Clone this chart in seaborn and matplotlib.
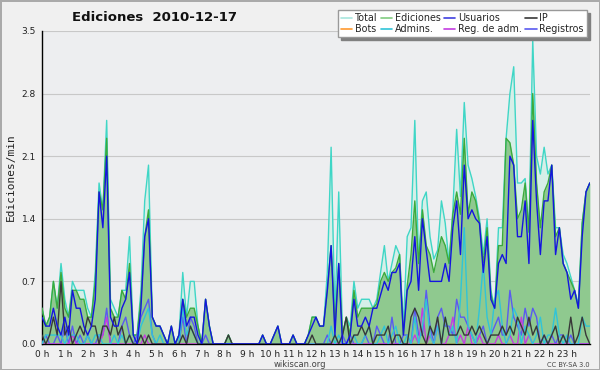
import numpy as np
import pandas as pd
import seaborn as sns
import matplotlib.pyplot as plt
from matplotlib.lines import Line2D
from matplotlib.ticker import MultipleLocator

sns.set_style("white")
plt.rcParams['font.family'] = ['DejaVu Sans']

# ediciones por minuto, tramos de 10 minutos (0 h ... 24 h)
horas = np.arange(145) / 6

total = [
    0.4, 0.2, 0.3, 0.7, 0.4, 0.9,
    0.5, 0.3, 0.7, 0.6, 0.6, 0.6,
    0.4, 0.3, 0.8, 1.8, 1.5, 2.5,
    0.5, 0.4, 0.3, 0.6, 0.6, 1.2,
    0.1, 0.1, 0.6, 1.6, 2.0, 0.3,
    0.2, 0.2, 0.1, 0.0, 0.2, 0.0,
    0.1, 0.8, 0.3, 0.7, 0.7, 0.2,
    0.0, 0.5, 0.2, 0.0, 0.0, 0.0,
    0.0, 0.1, 0.0, 0.0, 0.0, 0.0,
    0.0, 0.0, 0.0, 0.0, 0.1, 0.0,
    0.0, 0.1, 0.2, 0.0, 0.0, 0.0,
    0.1, 0.0, 0.0, 0.0, 0.1, 0.3,
    0.3, 0.2, 0.2, 0.8, 2.2, 0.3,
    1.7, 0.1, 0.3, 0.2, 0.7, 0.4,
    0.5, 0.5, 0.5, 0.4, 0.5, 0.8,
    1.1, 0.7, 0.9, 1.1, 1.0, 0.2,
    1.2, 1.3, 2.5, 0.9, 1.6, 1.7,
    1.2, 0.95, 1.05, 1.6, 1.35, 0.9,
    1.5, 2.4, 1.65, 2.7, 2.0, 1.85,
    1.65, 1.4, 1.0, 1.4, 0.6, 0.4,
    1.3, 1.3, 2.3, 2.8, 3.1, 1.8,
    1.8, 1.85, 1.25, 3.4, 2.1, 1.9,
    2.2, 1.9, 2.0, 1.3, 1.3, 1.0,
    0.9, 0.75, 0.6, 0.45, 1.35, 1.7,
    1.8,
]

ediciones = [
    0.4, 0.2, 0.3, 0.7, 0.4, 0.8,
    0.4, 0.3, 0.6, 0.6, 0.5, 0.5,
    0.3, 0.3, 0.7, 1.7, 1.5, 2.3,
    0.4, 0.3, 0.3, 0.6, 0.5, 0.9,
    0.1, 0.1, 0.5, 1.2, 1.5, 0.3,
    0.2, 0.2, 0.1, 0.0, 0.2, 0.0,
    0.1, 0.5, 0.3, 0.4, 0.4, 0.2,
    0.0, 0.5, 0.2, 0.0, 0.0, 0.0,
    0.0, 0.1, 0.0, 0.0, 0.0, 0.0,
    0.0, 0.0, 0.0, 0.0, 0.1, 0.0,
    0.0, 0.1, 0.2, 0.0, 0.0, 0.0,
    0.1, 0.0, 0.0, 0.0, 0.1, 0.3,
    0.3, 0.2, 0.2, 0.6, 1.1, 0.2,
    0.9, 0.1, 0.3, 0.1, 0.6, 0.3,
    0.4, 0.4, 0.4, 0.4, 0.45, 0.7,
    0.8, 0.7, 0.8, 0.85, 1.0, 0.1,
    0.65, 1.0, 1.6, 0.9, 1.5, 1.1,
    1.0, 0.8, 1.0, 1.2, 1.1, 0.9,
    1.45, 1.7, 1.45, 2.3, 1.45, 1.7,
    1.6, 1.35, 0.9, 1.3, 0.55, 0.4,
    1.1, 1.1, 2.3, 2.25, 2.0, 1.4,
    1.5, 1.8, 1.25, 2.8, 1.8, 1.3,
    1.7, 1.8, 2.0, 1.2, 1.3, 0.9,
    0.8, 0.7, 0.6, 0.4, 1.35, 1.7,
    1.8,
]

usuarios = [
    0.3, 0.2, 0.2, 0.4, 0.2, 0.1,
    0.3, 0.1, 0.6, 0.4, 0.4, 0.2,
    0.1, 0.2, 0.5, 1.7, 1.3, 2.1,
    0.3, 0.2, 0.2, 0.4, 0.5, 0.8,
    0.1, 0.0, 0.4, 1.2, 1.4, 0.3,
    0.2, 0.2, 0.1, 0.0, 0.2, 0.0,
    0.1, 0.5, 0.2, 0.3, 0.3, 0.1,
    0.0, 0.5, 0.2, 0.0, 0.0, 0.0,
    0.0, 0.0, 0.0, 0.0, 0.0, 0.0,
    0.0, 0.0, 0.0, 0.0, 0.1, 0.0,
    0.0, 0.1, 0.2, 0.0, 0.0, 0.0,
    0.1, 0.0, 0.0, 0.0, 0.1, 0.2,
    0.3, 0.2, 0.2, 0.6, 1.1, 0.1,
    0.9, 0.0, 0.0, 0.1, 0.5, 0.2,
    0.2, 0.3, 0.2, 0.4, 0.4, 0.55,
    0.7, 0.6, 0.8, 0.8, 0.9, 0.1,
    0.6, 0.7, 1.2, 0.6, 1.4, 1.05,
    0.7, 0.7, 0.7, 0.7, 0.9, 0.7,
    1.3, 1.6, 1.0, 2.0, 1.4, 1.5,
    1.4, 1.35, 0.8, 1.2, 0.5, 0.4,
    0.9, 1.0, 0.9, 2.1, 2.0, 1.2,
    1.2, 1.6, 0.9, 2.5, 1.6, 1.0,
    1.6, 1.6, 2.0, 1.0, 1.3, 0.9,
    0.8, 0.5, 0.6, 0.4, 1.2, 1.7,
    1.8,
]

ip = [
    0.1, 0.0, 0.1, 0.3, 0.1, 0.7,
    0.1, 0.2, 0.0, 0.1, 0.2, 0.1,
    0.3, 0.2, 0.2, 0.0, 0.2, 0.2,
    0.1, 0.3, 0.1, 0.2, 0.0, 0.1,
    0.0, 0.0, 0.1, 0.0, 0.1, 0.0,
    0.0, 0.0, 0.0, 0.0, 0.0, 0.0,
    0.0, 0.1, 0.0, 0.2, 0.1, 0.0,
    0.0, 0.0, 0.0, 0.0, 0.0, 0.0,
    0.0, 0.1, 0.0, 0.0, 0.0, 0.0,
    0.0, 0.0, 0.0, 0.0, 0.0, 0.0,
    0.0, 0.0, 0.0, 0.0, 0.0, 0.0,
    0.0, 0.0, 0.0, 0.0, 0.0, 0.1,
    0.0, 0.0, 0.0, 0.0, 0.0, 0.1,
    0.0, 0.1, 0.3, 0.0, 0.1, 0.1,
    0.2, 0.1, 0.2, 0.0, 0.1, 0.1,
    0.1, 0.2, 0.0, 0.1, 0.1, 0.0,
    0.0, 0.3, 0.4, 0.3, 0.1, 0.0,
    0.2, 0.1, 0.3, 0.0, 0.3, 0.1,
    0.1, 0.1, 0.2, 0.1, 0.1, 0.2,
    0.1, 0.2, 0.1, 0.0, 0.1, 0.1,
    0.1, 0.2, 0.1, 0.2, 0.1, 0.3,
    0.2, 0.1, 0.3, 0.1, 0.2, 0.0,
    0.1, 0.0, 0.1, 0.2, 0.0, 0.1,
    0.0, 0.3, 0.0, 0.1, 0.3, 0.1,
    0.0,
]

admins = [
    0.0, 0.1, 0.1, 0.1, 0.1, 0.1,
    0.0, 0.1, 0.1, 0.1, 0.0, 0.0,
    0.1, 0.0, 0.1, 0.1, 0.0, 0.0,
    0.0, 0.1, 0.0, 0.1, 0.0, 0.1,
    0.0, 0.0, 0.2, 0.3, 0.4, 0.1,
    0.0, 0.1, 0.0, 0.0, 0.0, 0.0,
    0.0, 0.4, 0.1, 0.2, 0.1, 0.0,
    0.0, 0.0, 0.0, 0.0, 0.0, 0.0,
    0.0, 0.0, 0.0, 0.0, 0.0, 0.0,
    0.0, 0.0, 0.0, 0.0, 0.0, 0.0,
    0.0, 0.0, 0.0, 0.0, 0.0, 0.0,
    0.0, 0.0, 0.0, 0.0, 0.0, 0.0,
    0.0, 0.0, 0.0, 0.0, 0.2, 0.0,
    0.1, 0.0, 0.0, 0.0, 0.1, 0.0,
    0.0, 0.1, 0.2, 0.0, 0.0, 0.1,
    0.2, 0.0, 0.1, 0.2, 0.0, 0.0,
    0.1, 0.0, 0.3, 0.0, 0.2, 0.5,
    0.1, 0.0, 0.2, 0.0, 0.3, 0.1,
    0.2, 0.0, 0.5, 1.3, 0.2, 0.1,
    0.0, 0.4, 0.9, 0.3, 0.1, 0.5,
    0.6, 0.2, 0.0, 0.1, 0.4, 0.3,
    0.0, 0.2, 0.1, 0.0, 0.1, 0.3,
    0.0, 0.1, 0.1, 0.4, 0.1, 0.0,
    0.1, 0.0, 0.0, 0.0, 0.3, 0.2,
    0.2,
]

registros = [
    0.0, 0.1, 0.0, 0.0, 0.1, 0.0,
    0.2, 0.0, 0.2, 0.0, 0.1, 0.0,
    0.1, 0.0, 0.0, 0.1, 0.1, 0.4,
    0.0, 0.0, 0.0, 0.2, 0.3, 0.1,
    0.0, 0.1, 0.3, 0.4, 0.5, 0.1,
    0.0, 0.0, 0.0, 0.0, 0.0, 0.0,
    0.0, 0.3, 0.0, 0.3, 0.2, 0.0,
    0.0, 0.1, 0.0, 0.0, 0.0, 0.0,
    0.0, 0.0, 0.0, 0.0, 0.0, 0.0,
    0.0, 0.0, 0.0, 0.0, 0.0, 0.0,
    0.0, 0.0, 0.0, 0.0, 0.0, 0.0,
    0.0, 0.0, 0.0, 0.0, 0.0, 0.0,
    0.0, 0.0, 0.0, 0.1, 0.0, 0.0,
    0.0, 0.1, 0.0, 0.1, 0.0, 0.0,
    0.0, 0.1, 0.0, 0.0, 0.2, 0.1,
    0.0, 0.0, 0.3, 0.0, 0.0, 0.1,
    0.1, 0.0, 0.4, 0.1, 0.1, 0.6,
    0.2, 0.0, 0.3, 0.4, 0.2, 0.2,
    0.1, 0.5, 0.3, 0.3, 0.2, 0.1,
    0.0, 0.1, 0.2, 0.0, 0.1, 0.2,
    0.3, 0.1, 0.1, 0.6, 0.3, 0.2,
    0.1, 0.4, 0.2, 0.4, 0.3, 0.0,
    0.1, 0.0, 0.1, 0.0, 0.1, 0.1,
    0.0, 0.1, 0.0, 0.0, 0.0, 0.0,
    0.0,
]

reg_adm = [
    0.0, 0.0, 0.0, 0.0, 0.0, 0.0,
    0.0, 0.0, 0.1, 0.0, 0.0, 0.0,
    0.0, 0.0, 0.0, 0.0, 0.1, 0.3,
    0.0, 0.0, 0.0, 0.0, 0.0, 0.0,
    0.0, 0.0, 0.0, 0.1, 0.0, 0.0,
    0.0, 0.0, 0.0, 0.0, 0.0, 0.0,
    0.0, 0.0, 0.0, 0.0, 0.0, 0.0,
    0.0, 0.0, 0.0, 0.0, 0.0, 0.0,
    0.0, 0.0, 0.0, 0.0, 0.0, 0.0,
    0.0, 0.0, 0.0, 0.0, 0.0, 0.0,
    0.0, 0.0, 0.0, 0.0, 0.0, 0.0,
    0.0, 0.0, 0.0, 0.0, 0.0, 0.0,
    0.0, 0.0, 0.0, 0.0, 0.0, 0.0,
    0.0, 0.0, 0.0, 0.0, 0.0, 0.0,
    0.0, 0.0, 0.0, 0.0, 0.0, 0.0,
    0.0, 0.0, 0.0, 0.0, 0.0, 0.0,
    0.0, 0.0, 0.1, 0.0, 0.4, 0.0,
    0.1, 0.0, 0.2, 0.0, 0.0, 0.1,
    0.3, 0.0, 0.1, 0.0, 0.2, 0.0,
    0.0, 0.1, 0.0, 0.0, 0.0, 0.0,
    0.1, 0.0, 0.0, 0.1, 0.0, 0.0,
    0.3, 0.0, 0.1, 0.0, 0.0, 0.0,
    0.0, 0.0, 0.0, 0.0, 0.0, 0.0,
    0.0, 0.0, 0.0, 0.0, 0.0, 0.0,
    0.0,
]

bots = [0.0] * 145

etiquetas_horas = [f"{h} h" for h in range(24)]

df = pd.DataFrame({
    "hora": horas,
    "Total": total, "Bots": bots, "Ediciones": ediciones, "Admins.": admins,
    "Usuarios": usuarios, "Reg. de adm.": reg_adm, "IP": ip, "Registros": registros,
}).melt(id_vars="hora", var_name="serie", value_name="valor")

colores = {
    "Total": "#3fd6c6", "Ediciones": "#3caa3c", "Usuarios": "#1414e0", "IP": "#383838",
    "Bots": "#ff9a30", "Admins.": "#30c4d8", "Reg. de adm.": "#c43ce0", "Registros": "#5a5af0",
}
colores_leyenda = dict(colores, Total="#a8e6de", Ediciones="#80cc80", Usuarios="#4040e0")
orden_dibujo = ["Total", "Ediciones", "Bots", "Registros", "Reg. de adm.", "Admins.", "IP", "Usuarios"]
orden_leyenda = ["Total", "Bots", "Ediciones", "Admins.", "Usuarios", "Reg. de adm.", "IP", "Registros"]

fig = plt.figure(figsize=(6, 3.7), dpi=100, facecolor="#f0f0f0")
fig.patch.set_edgecolor("#aaaaaa")
fig.patch.set_linewidth(2)
ax = fig.add_axes([0.07, 0.0703, 0.913, 0.846])
ax.set_facecolor("#edeef0")

ax.fill_between(horas, total, color="#d6efe8", lw=0, zorder=1)
ax.fill_between(horas, ediciones, color="#8fc98f", lw=0, zorder=1.5)

sns.lineplot(data=df, x="hora", y="valor", hue="serie", hue_order=orden_dibujo,
             palette=colores, linewidth=1, legend=False, ax=ax, zorder=3)

ax.set_xlim(0, 24)
ax.set_ylim(0, 3.5)
ax.yaxis.set_major_locator(MultipleLocator(0.7))
ax.yaxis.set_minor_locator(MultipleLocator(0.175))
ax.set_yticklabels([f"{v:.1f}" for v in ax.get_yticks()])
ax.set_xticks(range(24))
ax.set_xticklabels(etiquetas_horas)
ax.xaxis.set_minor_locator(MultipleLocator(1 / 6))
ax.tick_params(axis="both", which="both", direction="out", length=3, width=0.8,
               color="black", labelsize=6.5, pad=1.5, labelcolor="#222222")
ax.tick_params(axis="x", which="major", length=3.5, pad=0.5)
ax.grid(axis="y", which="major", color="#c8c8c8", linewidth=0.8, zorder=0)
ax.set_axisbelow(True)
for lado in ["top", "right"]:
    ax.spines[lado].set_visible(False)
for lado in ["left", "bottom"]:
    ax.spines[lado].set_color("black")
    ax.spines[lado].set_linewidth(1)
ax.set_xlabel("")
ax.set_ylabel("")

fig.text(0.258, 0.952, "Ediciones  2010-12-17", ha="center", va="center",
         fontsize=9.5, fontweight="bold", color="#111111")
fig.text(0.018, 0.52, "Ediciones/min", rotation=90, ha="center", va="center",
         family="DejaVu Sans Mono", fontsize=8, color="#222222")
fig.text(0.5, 0.016, "wikiscan.org", ha="center", va="center", fontsize=6, color="#444444")
fig.text(0.983, 0.013, "CC BY-SA 3.0", ha="right", va="center", fontsize=4.8, color="#444444")

manijas = [Line2D([0], [0], color=colores_leyenda[s], lw=1.2) for s in orden_leyenda]
fig.legend(manijas, orden_leyenda, ncol=4, loc="upper right", bbox_to_anchor=(0.978, 0.972),
           fontsize=6.9, frameon=True, fancybox=False, edgecolor="#999999", framealpha=1,
           shadow={"color": "#808080", "alpha": 1}, handlelength=1.2, handletextpad=0.3,
           columnspacing=0.3, labelspacing=0.1, borderpad=0.3, borderaxespad=0)

fig.savefig("out.png", dpi=100, facecolor=fig.get_facecolor(), edgecolor=fig.patch.get_edgecolor())
